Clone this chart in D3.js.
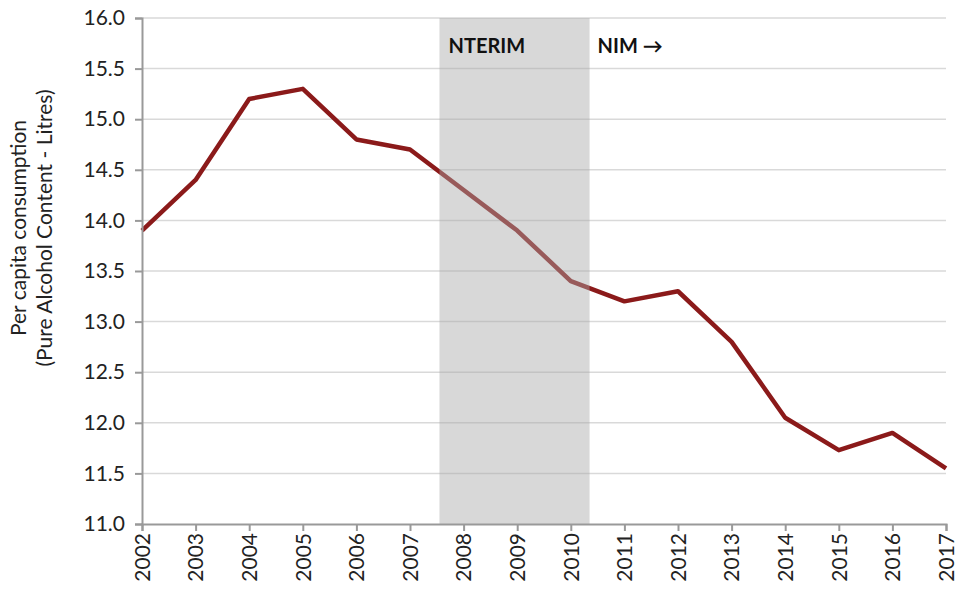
<!DOCTYPE html>
<html><head><meta charset="utf-8">
<script src="https://cdn.jsdelivr.net/npm/d3@7"></script>
<style>body{margin:0;background:#fff}svg{display:block}text{font-family:Lato,"Open Sans",sans-serif}</style>
</head><body><svg id="c" width="958" height="590"></svg>
<script>
const years = [2002,2003,2004,2005,2006,2007,2008,2009,2010,2011,2012,2013,2014,2015,2016,2017];
const values = [13.9,14.4,15.2,15.3,14.8,14.7,14.3,13.9,13.4,13.2,13.3,12.8,12.05,11.73,11.9,11.55];
const yTicks = [11.0,11.5,12.0,12.5,13.0,13.5,14.0,14.5,15.0,15.5,16.0];
const shadeRange = [2007.55, 2010.35];
const labels = ["NTERIM","NIM \u2192"];
const yTitle = ["Per capita consumption","(Pure Alcohol Content - Litres)"];

const svg = d3.select("#c");
const L=142,R=946,T=18,B=524;
const x = d3.scaleLinear().domain([2002,2017]).range([L,R]);
const y = d3.scaleLinear().domain([11,16]).range([B,T]);

// grid
svg.append("g").selectAll("line").data(yTicks.slice(1)).join("line")
  .attr("x1",L).attr("x2",R).attr("y1",d=>y(d)).attr("y2",d=>y(d))
  .attr("stroke","#d9d9d9").attr("stroke-width",1.5);

// line
svg.append("path").datum(years.map((yr,i)=>[yr,values[i]]))
  .attr("d",d3.line().x(d=>x(d[0])).y(d=>y(d[1])))
  .attr("fill","none").attr("stroke","#8b1a1a").attr("stroke-width",4.5).attr("stroke-linejoin","round");

// shade
svg.append("rect").attr("x",x(shadeRange[0])).attr("y",T).attr("width",x(shadeRange[1])-x(shadeRange[0])).attr("height",B-T)
  .attr("fill","#a8a8a8").attr("opacity",0.45);

// labels
svg.append("text").attr("x",x(shadeRange[0])+9).attr("y",53).text(labels[0])
  .attr("font-size",20).attr("font-weight","bold").attr("fill","#111");
svg.append("text").attr("x",x(shadeRange[1])+8).attr("y",53).text(labels[1])
  .attr("font-size",20).attr("font-weight","bold").attr("fill","#111");

// axes
const ya = svg.append("g").attr("transform",`translate(${L},0)`)
  .call(d3.axisLeft(y).tickValues(yTicks).tickFormat(d3.format(".1f")).tickSize(7).tickPadding(10));
const xa = svg.append("g").attr("transform",`translate(0,${B})`)
  .call(d3.axisBottom(x).tickValues(years).tickFormat(d=>String(d)).tickSize(7));
[ya,xa].forEach(g=>{
  g.select(".domain").attr("stroke","#999").attr("stroke-width",2);
  g.selectAll(".tick line").attr("stroke","#999").attr("stroke-width",2);
  g.selectAll("text").attr("font-size",21).attr("fill","#222").attr("font-family","Lato,'Open Sans',sans-serif");
});
xa.selectAll("text").attr("transform","rotate(-90)").attr("text-anchor","end")
  .attr("x",-9).attr("y",0).attr("dy","0.35em");

// y title
svg.append("g").attr("transform","translate(26,228) rotate(-90)").selectAll("text").data(yTitle).join("text")
  .attr("x",0).attr("y",(d,i)=>i*26).attr("text-anchor","middle").attr("font-size",21).attr("fill","#222").text(d=>d);
</script></body></html>
